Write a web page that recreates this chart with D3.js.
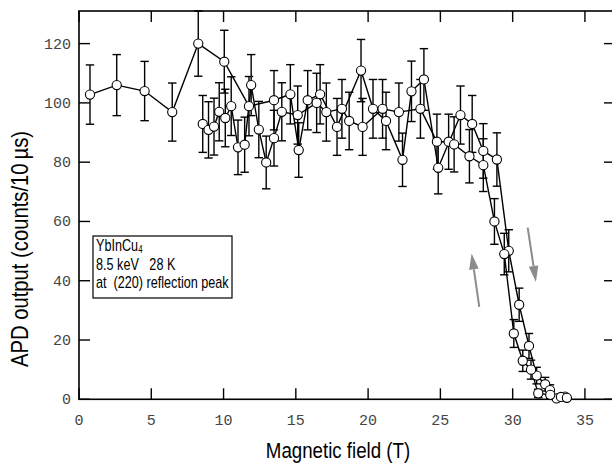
<!DOCTYPE html>
<html>
<head>
<meta charset="utf-8">
<script src="https://cdn.jsdelivr.net/npm/d3@7"></script>
<style>
  body { margin: 0; background: #fff; }
  svg { display: block; }
</style>
</head>
<body>
<div id="chart"></div>
<script>
const width = 612,
  height = 466;

// field sweep up (sparse start at low field)
const upField  = [0.76, 2.61, 4.54, 6.45, 8.25, 10.05, 11.76, 13.49, 14.62, 15.2, 15.82, 16.68, 17.85, 19.51, 20.34, 21.24,
                  22.38, 23.0, 23.86, 24.85, 26.39, 27.2, 27.97, 28.91, 29.73, 30.45, 31.13, 31.66, 32.25, 32.58, 33.04, 33.62];
const upCounts = [102.8, 106, 104, 96.9, 120, 113.9, 98.9, 100.9, 102.9, 84.1, 100.9, 102.9, 91.9, 110.9, 98, 93.9,
                  80.8, 103.9, 107.9, 78.1, 95.9, 92.9, 83.8, 80.9, 50.1, 31.9, 18, 8, 5.1, 3.1, 0.3, 0.9];
const upErr    = [10, 10.3, 10, 9.8, 11, 10.6, 10, 10, 10, 9.2, 10, 10, 9.6, 10.5, 9.9, 9.7,
                  9, 10.2, 10.4, 8.8, 9.8, 9.6, 9.2, 9, 7.1, 5.6, 4.2, 2.8, 2.3, 1.8, 0.6, 1];

// field sweep down
const downField  = [8.56, 8.96, 9.34, 9.70, 10.12, 10.53, 11.0, 11.46, 11.91, 12.44, 12.95, 13.49, 14.03, 15.13, 16.44, 17.11, 18.19, 18.69,
                    19.62, 21.0, 22.13, 23.62, 24.76, 25.57, 25.95, 27.01, 27.97, 28.74, 29.42, 30.08, 30.7, 31.27, 31.77, 32.6, 33.34, 33.75];
const downCounts = [92.9, 90.9, 92, 97, 94.9, 98.9, 85, 85.9, 106, 91, 79.9, 88.1, 97, 95.9, 100, 96.9, 98, 93.9,
                    91.9, 98, 96.9, 98, 86.9, 86.9, 86, 82, 79, 60, 49, 22.2, 13, 10, 2, 1.5, 0.8, 0.5];
const downErr    = [9.6, 9.5, 9.6, 9.8, 9.7, 9.9, 9.2, 9.3, 10.3, 9.5, 8.9, 9.4, 9.8, 9.8, 10, 9.8, 9.9, 9.7,
                    9.6, 9.9, 9.8, 9.9, 9.3, 9.3, 9.3, 9, 8.9, 7.7, 7, 4.7, 3.6, 3.2, 1.4, 1.2, 0.9, 0.7];

const xTicks = [0, 5, 10, 15, 20, 25, 30, 35];
const yTicks = [0, 20, 40, 60, 80, 100, 120];

// sweep direction arrows: [x1, y1, x2, y2] in data units
const arrows = [[27.69, 31.2, 27.16, 49.2], [31.04, 57.9, 31.61, 39.6]];

const boxLines = ["YbInCu", "8.5 keV   28 K", "at  (220) reflection peak"];

const plot = { left: 79, right: 615, top: 11, bottom: 399.3 };

const x = d3.scaleLinear().domain([0, 37.08]).range([plot.left, plot.right]);
const y = d3.scaleLinear().domain([0, 131]).range([plot.bottom, plot.top]);

const svg = d3.select("#chart").append("svg")
  .attr("width", width)
  .attr("height", height);

// frame
svg.append("rect")
  .attr("x", plot.left)
  .attr("y", plot.top)
  .attr("width", plot.right - plot.left)
  .attr("height", plot.bottom - plot.top)
  .attr("fill", "none")
  .attr("stroke", "#000")
  .attr("stroke-width", 1.6);

const tickLen = 11;
const ticks = svg.append("g").attr("stroke", "#000").attr("stroke-width", 1.4);
xTicks.forEach(t => {
  ticks.append("line").attr("x1", x(t)).attr("x2", x(t)).attr("y1", plot.bottom).attr("y2", plot.bottom - tickLen);
  ticks.append("line").attr("x1", x(t)).attr("x2", x(t)).attr("y1", plot.top).attr("y2", plot.top + tickLen);
});
yTicks.forEach(t => {
  ticks.append("line").attr("x1", plot.left).attr("x2", plot.left + tickLen).attr("y1", y(t)).attr("y2", y(t));
  ticks.append("line").attr("x1", plot.right).attr("x2", plot.right - tickLen).attr("y1", y(t)).attr("y2", y(t));
});

const tickFont = "'Liberation Mono', 'DejaVu Sans Mono', monospace";
svg.append("g").selectAll("text")
  .data(xTicks)
  .join("text")
  .attr("x", d => x(d))
  .attr("y", 425)
  .attr("text-anchor", "middle")
  .attr("font-family", tickFont)
  .attr("font-size", 15)
  .attr("fill", "#444")
  .text(d => d);

svg.append("g").selectAll("text")
  .data(yTicks)
  .join("text")
  .attr("x", 71)
  .attr("y", d => y(d) + 5)
  .attr("text-anchor", "end")
  .attr("font-family", tickFont)
  .attr("font-size", 15)
  .attr("fill", "#444")
  .text(d => d);

// narrow sans look: regular sans squeezed horizontally
const titleFont = "'Liberation Sans', Arial, sans-serif";
svg.append("text")
  .attr("transform", "translate(338,458) scale(0.85,1)")
  .attr("text-anchor", "middle")
  .attr("font-family", titleFont)
  .attr("font-size", 22)
  .text("Magnetic field (T)");

svg.append("text")
  .attr("transform", "translate(28,249) rotate(-90) scale(0.88,1)")
  .attr("text-anchor", "middle")
  .attr("font-family", titleFont)
  .attr("font-size", 23)
  .text("APD output (counts/10\u2009\u00b5s)");

// data
const series = [
  d3.zip(upField, upCounts, upErr),
  d3.zip(downField, downCounts, downErr)
];

const line = d3.line().x(d => x(d[0])).y(d => y(d[1]));

svg.append("g").selectAll("path")
  .data(series)
  .join("path")
  .attr("d", line)
  .attr("fill", "none")
  .attr("stroke", "#000")
  .attr("stroke-width", 1.4);

const allPts = series.flat();
const capW = 4.2;
const eb = svg.append("g").attr("stroke", "#000").attr("stroke-width", 1.4);
allPts.forEach(d => {
  const cx = x(d[0]), y0 = y(d[1] - d[2]), y1 = y(d[1] + d[2]);
  eb.append("line").attr("x1", cx).attr("x2", cx).attr("y1", y0).attr("y2", y1);
  eb.append("line").attr("x1", cx - capW).attr("x2", cx + capW).attr("y1", y0).attr("y2", y0);
  eb.append("line").attr("x1", cx - capW).attr("x2", cx + capW).attr("y1", y1).attr("y2", y1);
});

svg.append("g").selectAll("circle")
  .data(allPts)
  .join("circle")
  .attr("cx", d => x(d[0]))
  .attr("cy", d => y(d[1]))
  .attr("r", 4.6)
  .attr("fill", "#fff")
  .attr("stroke", "#000")
  .attr("stroke-width", 1.1);

// arrows
const arrowG = svg.append("g");
arrows.forEach(a => {
  const x1 = x(a[0]), y1 = y(a[1]), x2 = x(a[2]), y2 = y(a[3]);
  const ang = Math.atan2(y2 - y1, x2 - x1);
  const headL = 16, headW = 4.8;
  const bx = x2 - headL * Math.cos(ang), by = y2 - headL * Math.sin(ang);
  arrowG.append("line")
    .attr("x1", x1).attr("y1", y1).attr("x2", bx).attr("y2", by)
    .attr("stroke", "#8c8c8c").attr("stroke-width", 2);
  const px = -Math.sin(ang) * headW, py = Math.cos(ang) * headW;
  arrowG.append("path")
    .attr("d", `M${x2},${y2}L${bx + px},${by + py}L${bx - px},${by - py}Z`)
    .attr("fill", "#8c8c8c");
});

// label box
svg.append("rect")
  .attr("x", 93)
  .attr("y", 236)
  .attr("width", 139)
  .attr("height", 62)
  .attr("fill", "#fff")
  .attr("stroke", "#000")
  .attr("stroke-width", 1.2);

const boxText = svg.append("g")
  .attr("transform", "translate(96,0) scale(0.79,1)")
  .attr("font-family", titleFont)
  .attr("font-size", 16);
const t0 = boxText.append("text").attr("x", 0).attr("y", 251).text(boxLines[0]);
t0.append("tspan").attr("font-size", 10).attr("dy", 2.5).text("4");
boxText.append("text").attr("x", 0).attr("y", 270).attr("xml:space", "preserve").text(boxLines[1]);
boxText.append("text").attr("x", 0).attr("y", 288).attr("xml:space", "preserve").text(boxLines[2]);
</script>
</body>
</html>
